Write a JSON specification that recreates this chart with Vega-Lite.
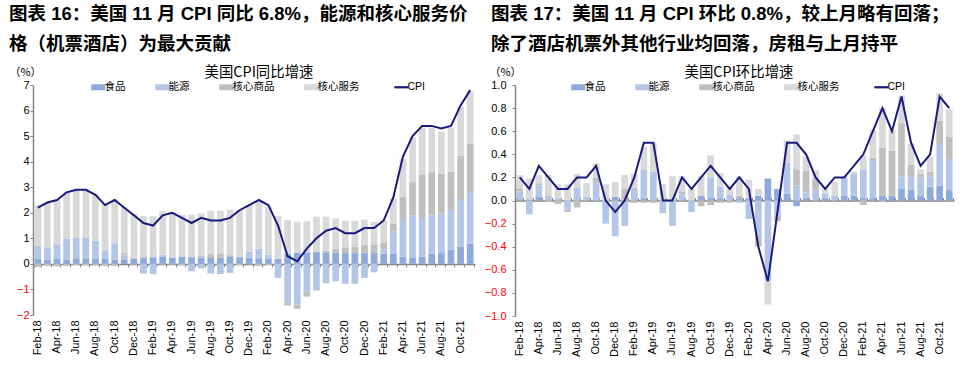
{
  "$schema": "https://vega.github.io/schema/vega-lite/v6.json",
  "background": "white",
  "padding": {"left": 8, "top": 5, "right": 5, "bottom": 5},
  "config": {
    "view": {"stroke": null},
    "axis": {"grid": false},
    "font": "Liberation Sans, Noto Sans CJK SC"
  },
  "datasets": {
    "yoy": [
      {"m":"Feb-18","food":0.19,"fuel":0.52,"goods":-0.12,"services":1.58,"cpi":2.2},
      {"m":"Mar-18","food":0.17,"fuel":0.48,"goods":-0.08,"services":1.73,"cpi":2.4},
      {"m":"Apr-18","food":0.19,"fuel":0.58,"goods":-0.10,"services":1.72,"cpi":2.5},
      {"m":"May-18","food":0.16,"fuel":0.83,"goods":-0.08,"services":1.82,"cpi":2.8},
      {"m":"Jun-18","food":0.19,"fuel":0.85,"goods":-0.05,"services":1.86,"cpi":2.9},
      {"m":"Jul-18","food":0.19,"fuel":0.85,"goods":-0.05,"services":1.86,"cpi":2.9},
      {"m":"Aug-18","food":0.19,"fuel":0.72,"goods":-0.06,"services":1.83,"cpi":2.7},
      {"m":"Sep-18","food":0.19,"fuel":0.34,"goods":-0.08,"services":1.86,"cpi":2.3},
      {"m":"Oct-18","food":0.16,"fuel":0.65,"goods":-0.08,"services":1.74,"cpi":2.5},
      {"m":"Nov-18","food":0.18,"fuel":0.18,"goods":0.08,"services":1.79,"cpi":2.2},
      {"m":"Dec-18","food":0.20,"fuel":-0.03,"goods":0.05,"services":1.69,"cpi":1.9},
      {"m":"Jan-19","food":0.22,"fuel":-0.38,"goods":0.05,"services":1.61,"cpi":1.6},
      {"m":"Feb-19","food":0.26,"fuel":-0.40,"goods":0.00,"services":1.61,"cpi":1.5},
      {"m":"Mar-19","food":0.27,"fuel":0.09,"goods":-0.03,"services":1.70,"cpi":1.9},
      {"m":"Apr-19","food":0.25,"fuel":-0.03,"goods":0.00,"services":1.78,"cpi":2.0},
      {"m":"May-19","food":0.27,"fuel":-0.06,"goods":0.00,"services":1.65,"cpi":1.8},
      {"m":"Jun-19","food":0.26,"fuel":-0.29,"goods":0.03,"services":1.63,"cpi":1.6},
      {"m":"Jul-19","food":0.24,"fuel":-0.18,"goods":0.07,"services":1.66,"cpi":1.8},
      {"m":"Aug-19","food":0.23,"fuel":-0.38,"goods":0.15,"services":1.70,"cpi":1.7},
      {"m":"Sep-19","food":0.24,"fuel":-0.40,"goods":0.15,"services":1.69,"cpi":1.7},
      {"m":"Oct-19","food":0.27,"fuel":-0.35,"goods":0.07,"services":1.78,"cpi":1.8},
      {"m":"Nov-19","food":0.26,"fuel":-0.05,"goods":0.03,"services":1.81,"cpi":2.1},
      {"m":"Dec-19","food":0.24,"fuel":0.24,"goods":-0.02,"services":1.82,"cpi":2.3},
      {"m":"Jan-20","food":0.22,"fuel":0.37,"goods":-0.08,"services":1.84,"cpi":2.5},
      {"m":"Feb-20","food":0.21,"fuel":0.15,"goods":-0.05,"services":1.88,"cpi":2.3},
      {"m":"Mar-20","food":0.20,"fuel":-0.55,"goods":0.00,"services":1.68,"cpi":1.5},
      {"m":"Apr-20","food":0.39,"fuel":-1.50,"goods":-0.13,"services":1.33,"cpi":0.3},
      {"m":"May-20","food":0.43,"fuel":-1.59,"goods":-0.17,"services":1.22,"cpi":0.1},
      {"m":"Jun-20","food":0.45,"fuel":-1.08,"goods":-0.20,"services":1.22,"cpi":0.6},
      {"m":"Jul-20","food":0.46,"fuel":-0.98,"goods":-0.06,"services":1.39,"cpi":1.0},
      {"m":"Aug-20","food":0.43,"fuel":-0.76,"goods":0.09,"services":1.33,"cpi":1.3},
      {"m":"Sep-20","food":0.43,"fuel":-0.68,"goods":0.16,"services":1.19,"cpi":1.4},
      {"m":"Oct-20","food":0.42,"fuel":-0.78,"goods":0.23,"services":1.04,"cpi":1.2},
      {"m":"Nov-20","food":0.42,"fuel":-0.78,"goods":0.26,"services":1.01,"cpi":1.2},
      {"m":"Dec-20","food":0.44,"fuel":-0.55,"goods":0.31,"services":0.99,"cpi":1.4},
      {"m":"Jan-21","food":0.42,"fuel":-0.33,"goods":0.34,"services":0.88,"cpi":1.4},
      {"m":"Feb-21","food":0.40,"fuel":0.17,"goods":0.25,"services":0.88,"cpi":1.7},
      {"m":"Mar-21","food":0.40,"fuel":0.86,"goods":0.30,"services":1.00,"cpi":2.6},
      {"m":"Apr-21","food":0.29,"fuel":1.43,"goods":0.91,"services":1.48,"cpi":4.2},
      {"m":"May-21","food":0.23,"fuel":1.66,"goods":1.31,"services":1.75,"cpi":5.0},
      {"m":"Jun-21","food":0.29,"fuel":1.47,"goods":1.74,"services":1.83,"cpi":5.4},
      {"m":"Jul-21","food":0.39,"fuel":1.50,"goods":1.70,"services":1.74,"cpi":5.4},
      {"m":"Aug-21","food":0.42,"fuel":1.56,"goods":1.56,"services":1.63,"cpi":5.3},
      {"m":"Sep-21","food":0.55,"fuel":1.56,"goods":1.49,"services":1.73,"cpi":5.4},
      {"m":"Oct-21","food":0.68,"fuel":1.86,"goods":1.68,"services":1.93,"cpi":6.2},
      {"m":"Nov-21","food":0.79,"fuel":2.02,"goods":1.89,"services":2.06,"cpi":6.8}
    ],
    "mom": [
      {"m":"Feb-18","food":0.01,"fuel":0.07,"goods":0.02,"services":0.12,"cpi":0.2},
      {"m":"Mar-18","food":0.01,"fuel":-0.12,"goods":0.00,"services":0.18,"cpi":0.1},
      {"m":"Apr-18","food":0.03,"fuel":0.10,"goods":0.02,"services":0.07,"cpi":0.3},
      {"m":"May-18","food":0.00,"fuel":0.04,"goods":-0.01,"services":0.18,"cpi":0.2},
      {"m":"Jun-18","food":0.00,"fuel":0.02,"goods":-0.03,"services":0.12,"cpi":0.1},
      {"m":"Jul-18","food":0.00,"fuel":-0.08,"goods":-0.02,"services":0.14,"cpi":0.1},
      {"m":"Aug-18","food":0.00,"fuel":0.11,"goods":-0.06,"services":0.12,"cpi":0.2},
      {"m":"Sep-18","food":0.00,"fuel":0.03,"goods":0.00,"services":0.12,"cpi":0.2},
      {"m":"Oct-18","food":0.00,"fuel":0.15,"goods":0.05,"services":0.12,"cpi":0.3},
      {"m":"Nov-18","food":0.00,"fuel":-0.20,"goods":0.00,"services":0.14,"cpi":0.0},
      {"m":"Dec-18","food":0.03,"fuel":-0.31,"goods":0.00,"services":0.13,"cpi":-0.1},
      {"m":"Jan-19","food":0.00,"fuel":-0.22,"goods":0.10,"services":0.12,"cpi":0.0},
      {"m":"Feb-19","food":0.00,"fuel":0.11,"goods":-0.02,"services":0.12,"cpi":0.2},
      {"m":"Mar-19","food":0.02,"fuel":0.25,"goods":-0.02,"services":0.19,"cpi":0.5},
      {"m":"Apr-19","food":0.00,"fuel":0.25,"goods":-0.02,"services":0.25,"cpi":0.5},
      {"m":"May-19","food":0.00,"fuel":-0.11,"goods":0.00,"services":0.14,"cpi":0.0},
      {"m":"Jun-19","food":0.00,"fuel":-0.22,"goods":0.00,"services":0.21,"cpi":0.0},
      {"m":"Jul-19","food":0.00,"fuel":0.05,"goods":0.03,"services":0.13,"cpi":0.2},
      {"m":"Aug-19","food":0.00,"fuel":-0.10,"goods":0.00,"services":0.10,"cpi":0.1},
      {"m":"Sep-19","food":0.04,"fuel":0.00,"goods":-0.05,"services":0.17,"cpi":0.2},
      {"m":"Oct-19","food":0.02,"fuel":0.18,"goods":-0.04,"services":0.19,"cpi":0.3},
      {"m":"Nov-19","food":0.02,"fuel":0.10,"goods":-0.02,"services":0.12,"cpi":0.2},
      {"m":"Dec-19","food":0.00,"fuel":0.05,"goods":-0.02,"services":0.06,"cpi":0.1},
      {"m":"Jan-20","food":0.02,"fuel":-0.02,"goods":0.02,"services":0.17,"cpi":0.2},
      {"m":"Feb-20","food":0.02,"fuel":-0.16,"goods":0.00,"services":0.16,"cpi":0.1},
      {"m":"Mar-20","food":0.04,"fuel":-0.30,"goods":-0.10,"services":0.06,"cpi":-0.4},
      {"m":"Apr-20","food":0.19,"fuel":-0.70,"goods":0.00,"services":-0.20,"cpi":-0.7},
      {"m":"May-20","food":0.10,"fuel":-0.13,"goods":-0.05,"services":0.00,"cpi":-0.1},
      {"m":"Jun-20","food":0.06,"fuel":0.27,"goods":0.00,"services":0.19,"cpi":0.5},
      {"m":"Jul-20","food":-0.05,"fuel":0.13,"goods":0.14,"services":0.30,"cpi":0.5},
      {"m":"Aug-20","food":0.02,"fuel":0.05,"goods":0.19,"services":0.12,"cpi":0.4},
      {"m":"Sep-20","food":0.00,"fuel":0.10,"goods":0.09,"services":0.07,"cpi":0.2},
      {"m":"Oct-20","food":0.02,"fuel":0.04,"goods":0.00,"services":0.04,"cpi":0.1},
      {"m":"Nov-20","food":0.00,"fuel":0.04,"goods":0.00,"services":0.12,"cpi":0.2},
      {"m":"Dec-20","food":0.04,"fuel":0.16,"goods":0.00,"services":0.01,"cpi":0.2},
      {"m":"Jan-21","food":0.04,"fuel":0.19,"goods":0.00,"services":0.02,"cpi":0.3},
      {"m":"Feb-21","food":0.02,"fuel":0.25,"goods":-0.04,"services":0.12,"cpi":0.4},
      {"m":"Mar-21","food":0.02,"fuel":0.33,"goods":0.02,"services":0.24,"cpi":0.6},
      {"m":"Apr-21","food":0.04,"fuel":-0.01,"goods":0.42,"services":0.34,"cpi":0.8},
      {"m":"May-21","food":0.04,"fuel":0.00,"goods":0.39,"services":0.18,"cpi":0.6},
      {"m":"Jun-21","food":0.10,"fuel":0.11,"goods":0.46,"services":0.24,"cpi":0.9},
      {"m":"Jul-21","food":0.09,"fuel":0.12,"goods":0.10,"services":0.18,"cpi":0.5},
      {"m":"Aug-21","food":0.04,"fuel":0.16,"goods":0.03,"services":0.04,"cpi":0.3},
      {"m":"Sep-21","food":0.12,"fuel":0.09,"goods":0.04,"services":0.13,"cpi":0.4},
      {"m":"Oct-21","food":0.13,"fuel":0.36,"goods":0.20,"services":0.24,"cpi":0.9},
      {"m":"Nov-21","food":0.09,"fuel":0.27,"goods":0.19,"services":0.24,"cpi":0.8}
    ]
  },
  "spacing": 40,
  "bounds": "flush",
  "resolve": {"scale": {"color": "independent"}, "legend": {"color": "independent"}},
  "hconcat": [
    {
      "width": 442,
      "height": 230,
      "title": {
        "text": ["图表 16：美国 11 月 CPI 同比 6.8%，能源和核心服务价", "格（机票酒店）为最大贡献"],
        "anchor": "start", "frame": "group", "dx": -24, "offset": 12,
        "font": "Liberation Sans, Noto Sans CJK SC", "fontSize": 18.5, "fontWeight": "bold",
        "color": "black", "lineHeight": 30
      },
      "data": {"name": "yoy"},
      "resolve": {"axis": {"x": "independent"}},
      "layer": [
        {
          "transform": [{"fold": ["food", "fuel", "goods", "services"], "as": ["key", "value"]}],
          "mark": {"type": "bar"},
          "encoding": {
            "x": {
              "field": "m", "type": "ordinal", "sort": null,
              "scale": {"paddingInner": 0.3, "paddingOuter": 0.15},
              "axis": {
                "orient": "bottom", "title": null, "domain": false, "ticks": false,
                "labelAngle": -90, "labelFont": "Liberation Sans", "labelFontSize": 11,
                "labelColor": "black", "labelPadding": 5, "labelOverlap": false,
                "values": ["Feb-18","Apr-18","Jun-18","Aug-18","Oct-18","Dec-18","Feb-19","Apr-19","Jun-19","Aug-19","Oct-19","Dec-19","Feb-20","Apr-20","Jun-20","Aug-20","Oct-20","Dec-20","Feb-21","Apr-21","Jun-21","Aug-21","Oct-21"]
              }
            },
            "y": {
              "field": "value", "type": "quantitative", "stack": "zero",
              "scale": {"domain": [-2, 7], "nice": false},
              "axis": {
                "title": "（%）", "titleAngle": 0, "titleX": -8, "titleY": -10,
                "titleAlign": "center", "titleBaseline": "alphabetic",
                "titleFont": "Noto Sans CJK SC", "titleFontSize": 11, "titleFontWeight": "normal", "titleColor": "black",
                "values": [-2, -1, 0, 1, 2, 3, 4, 5, 6, 7],
                "domainColor": "#868686", "domainWidth": 1.5,
                "tickColor": "#868686", "tickSize": 3, "labelPadding": 1,
                "labelFont": "Liberation Sans", "labelFontSize": 11, "labelOverlap": false,
                "labelColor": {"condition": {"test": "datum.value < 0", "value": "#FF0000"}, "value": "black"}
              }
            },
            "color": {
              "field": "key", "type": "nominal",
              "scale": {"domain": ["food", "fuel", "goods", "services", "cpi"], "range": ["#8EA9DB", "#B4C6E7", "#BFBFBF", "#D9D9D9", "#1A1A7E"]},
              "legend": {
                "orient": "none", "legendX": 60, "legendY": -19.5, "direction": "horizontal",
                "title": "美国CPI同比增速", "titleAnchor": "middle", "titleFont": "Noto Sans CJK SC",
                "titleFontSize": 14.4, "titleFontWeight": "normal", "titleColor": "black", "titlePadding": 2,
                "labelFont": "Liberation Sans, Noto Sans CJK SC", "labelFontSize": 10.5, "labelColor": "black",
                "labelOffset": 1, "columnPadding": 29, "symbolSize": 196, "padding": 0,
                "labelExpr": "{'food':'食品','fuel':'能源','goods':'核心商品','services':'核心服务','cpi':'CPI'}[datum.label]",
                "encode": {
                  "symbols": {
                    "update": {
                      "shape": {"signal": "datum.value === 'cpi' ? 'M-1,0H1' : 'M-1,-0.43H1V0.43H-1Z'"},
                      "fill": {"signal": "datum.value === 'cpi' ? 'transparent' : {'food':'#8EA9DB','fuel':'#B4C6E7','goods':'#BFBFBF','services':'#D9D9D9'}[datum.value]"},
                      "stroke": {"signal": "datum.value === 'cpi' ? '#1A1A7E' : 'transparent'"},
                      "strokeWidth": {"signal": "datum.value === 'cpi' ? 2.2 : 0"},
                      "opacity": {"value": 1}
                    }
                  }
                }
              }
            },
            "order": {"field": "key", "sort": "ascending"}
          }
        },
        {
          "mark": {"type": "line", "strokeWidth": 2},
          "encoding": {
            "x": {
              "field": "m", "type": "ordinal", "sort": null,
              "axis": {
                "orient": "bottom", "offset": -51.1, "title": null, "labels": false,
                "domainColor": "#868686", "domainWidth": 1.5,
                "ticks": true, "tickBand": "extent", "tickSize": 3, "tickColor": "#868686"
              }
            },
            "y": {
              "field": "cpi", "type": "quantitative",
              "axis": {
                "title": "（%）", "titleAngle": 0, "titleX": -8, "titleY": -10,
                "titleAlign": "center", "titleBaseline": "alphabetic",
                "titleFont": "Noto Sans CJK SC", "titleFontSize": 11, "titleFontWeight": "normal", "titleColor": "black",
                "values": [-2, -1, 0, 1, 2, 3, 4, 5, 6, 7],
                "domainColor": "#868686", "domainWidth": 1.5,
                "tickColor": "#868686", "tickSize": 3, "labelPadding": 1,
                "labelFont": "Liberation Sans", "labelFontSize": 11, "labelOverlap": false,
                "labelColor": {"condition": {"test": "datum.value < 0", "value": "#FF0000"}, "value": "black"}
              }
            },
            "color": {"datum": "cpi"}
          }
        }
      ]
    },
    {
      "width": 439,
      "height": 231,
      "title": {
        "text": ["图表 17：美国 11 月 CPI 环比 0.8%，较上月略有回落；", "除了酒店机票外其他行业均回落，房租与上月持平"],
        "anchor": "start", "frame": "group", "dx": -24, "offset": 12,
        "font": "Liberation Sans, Noto Sans CJK SC", "fontSize": 18.5, "fontWeight": "bold",
        "color": "black", "lineHeight": 30
      },
      "data": {"name": "mom"},
      "resolve": {"axis": {"x": "independent"}},
      "layer": [
        {
          "transform": [{"fold": ["food", "fuel", "goods", "services"], "as": ["key", "value"]}],
          "mark": {"type": "bar"},
          "encoding": {
            "x": {
              "field": "m", "type": "ordinal", "sort": null,
              "scale": {"paddingInner": 0.3, "paddingOuter": 0.15},
              "axis": {
                "orient": "bottom", "title": null, "domain": false, "ticks": false,
                "labelAngle": -90, "labelFont": "Liberation Sans", "labelFontSize": 11,
                "labelColor": "black", "labelPadding": 5, "labelOverlap": false,
                "values": ["Feb-18","Apr-18","Jun-18","Aug-18","Oct-18","Dec-18","Feb-19","Apr-19","Jun-19","Aug-19","Oct-19","Dec-19","Feb-20","Apr-20","Jun-20","Aug-20","Oct-20","Dec-20","Feb-21","Apr-21","Jun-21","Aug-21","Oct-21"]
              }
            },
            "y": {
              "field": "value", "type": "quantitative", "stack": "zero",
              "scale": {"domain": [-1, 1], "nice": false},
              "axis": {
                "title": "（%）", "titleAngle": 0, "titleX": -10, "titleY": -10,
                "titleAlign": "center", "titleBaseline": "alphabetic",
                "titleFont": "Noto Sans CJK SC", "titleFontSize": 11, "titleFontWeight": "normal", "titleColor": "black",
                "values": [-1, -0.8, -0.6, -0.4, -0.2, 0, 0.2, 0.4, 0.6, 0.8, 1],
                "format": ".1f",
                "domainColor": "#868686", "domainWidth": 1.5,
                "tickColor": "#868686", "tickSize": 3, "labelPadding": 6,
                "labelFont": "Liberation Sans", "labelFontSize": 11, "labelOverlap": false,
                "labelColor": {"condition": {"test": "datum.value < 0", "value": "#FF0000"}, "value": "black"}
              }
            },
            "color": {
              "field": "key", "type": "nominal",
              "scale": {"domain": ["food", "fuel", "goods", "services", "cpi"], "range": ["#8EA9DB", "#B4C6E7", "#BFBFBF", "#D9D9D9", "#1A1A7E"]},
              "legend": {
                "orient": "none", "legendX": 58, "legendY": -19.5, "direction": "horizontal",
                "title": "美国CPI环比增速", "titleAnchor": "middle", "titleFont": "Noto Sans CJK SC",
                "titleFontSize": 14.4, "titleFontWeight": "normal", "titleColor": "black", "titlePadding": 2,
                "labelFont": "Liberation Sans, Noto Sans CJK SC", "labelFontSize": 10.5, "labelColor": "black",
                "labelOffset": 1, "columnPadding": 29, "symbolSize": 196, "padding": 0,
                "labelExpr": "{'food':'食品','fuel':'能源','goods':'核心商品','services':'核心服务','cpi':'CPI'}[datum.label]",
                "encode": {
                  "symbols": {
                    "update": {
                      "shape": {"signal": "datum.value === 'cpi' ? 'M-1,0H1' : 'M-1,-0.43H1V0.43H-1Z'"},
                      "fill": {"signal": "datum.value === 'cpi' ? 'transparent' : {'food':'#8EA9DB','fuel':'#B4C6E7','goods':'#BFBFBF','services':'#D9D9D9'}[datum.value]"},
                      "stroke": {"signal": "datum.value === 'cpi' ? '#1A1A7E' : 'transparent'"},
                      "strokeWidth": {"signal": "datum.value === 'cpi' ? 2.2 : 0"},
                      "opacity": {"value": 1}
                    }
                  }
                }
              }
            },
            "order": {"field": "key", "sort": "ascending"}
          }
        },
        {
          "mark": {"type": "line", "strokeWidth": 2},
          "encoding": {
            "x": {
              "field": "m", "type": "ordinal", "sort": null,
              "axis": {
                "orient": "top", "offset": -115.5, "title": null, "labels": false,
                "domainColor": "#868686", "domainWidth": 1.5,
                "ticks": true, "tickBand": "extent", "tickSize": 3, "tickColor": "#868686"
              }
            },
            "y": {
              "field": "cpi", "type": "quantitative",
              "axis": {
                "title": "（%）", "titleAngle": 0, "titleX": -10, "titleY": -10,
                "titleAlign": "center", "titleBaseline": "alphabetic",
                "titleFont": "Noto Sans CJK SC", "titleFontSize": 11, "titleFontWeight": "normal", "titleColor": "black",
                "values": [-1, -0.8, -0.6, -0.4, -0.2, 0, 0.2, 0.4, 0.6, 0.8, 1],
                "format": ".1f",
                "domainColor": "#868686", "domainWidth": 1.5,
                "tickColor": "#868686", "tickSize": 3, "labelPadding": 6,
                "labelFont": "Liberation Sans", "labelFontSize": 11, "labelOverlap": false,
                "labelColor": {"condition": {"test": "datum.value < 0", "value": "#FF0000"}, "value": "black"}
              }
            },
            "color": {"datum": "cpi"}
          }
        }
      ]
    }
  ]
}
